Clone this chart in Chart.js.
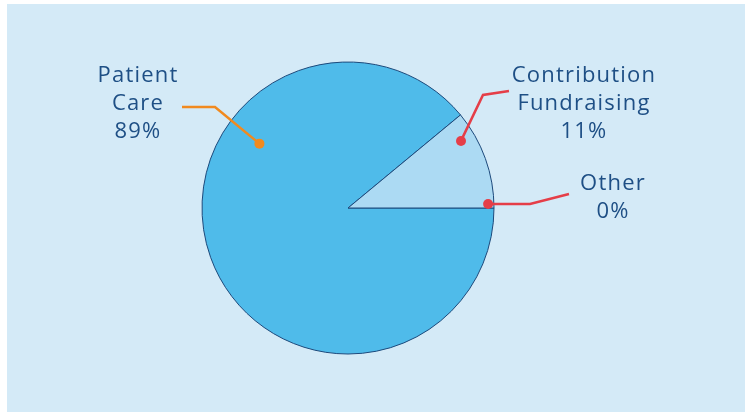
<!DOCTYPE html>
<html>
<head>
<meta charset="utf-8">
<script src="https://cdn.jsdelivr.net/npm/chart.js@4/dist/chart.umd.min.js"></script>
<style>
  html, body { margin: 0; padding: 0; background: #ffffff; }
  #wrap { width: 745px; height: 415px; position: relative; }
</style>
</head>
<body>
<div id="wrap"><canvas id="pieChart" width="745" height="415"></canvas></div>
<script>
// data
const categories = ["Patient Care", "Contribution Fundraising", "Other"];
const shares = [89, 11, 0];
const labelLines = [["Patient", "Care"], ["Contribution", "Fundraising"], ["Other"]];

const sliceColors = ["#4fbbea", "#acdaf3", "#4fbbea"];
const leaderColors = ["#f18a1f", "#e53e48", "#e53e48"];

// where each callout sits, relative to the pie centre (px) and radius
const callouts = [
    { dotAngle: -144, dotR: 0.75, elbow: [-133, -101], end: [-166, -101], text: [-210, -126] },
    { dotAngle: -30.7, dotR: 0.90, elbow: [135, -113], end: [161, -117], text: [236, -126] },
    { dotAngle: -1.6, dotR: 0.96, elbow: [182, -4], end: [221, -14], text: [265, -18] }
];

const panelPlugin = {
    id: "panel",
    beforeDraw(chart) {
        const ctx = chart.ctx;
        ctx.save();
        ctx.fillStyle = "#d4eaf7";
        ctx.fillRect(7, 4, 738, 408);
        ctx.restore();
    }
};

const calloutPlugin = {
    id: "callouts",
    afterDatasetsDraw(chart) {
        const ctx = chart.ctx;
        const meta = chart.getDatasetMeta(0);
        const arc = meta.data[0];
        const cx = arc.x, cy = arc.y, R = arc.outerRadius;
        ctx.save();
        callouts.forEach((c, i) => {
            const a = c.dotAngle * Math.PI / 180;
            const dx = cx + Math.cos(a) * R * c.dotR;
            const dy = cy + Math.sin(a) * R * c.dotR;
            ctx.strokeStyle = leaderColors[i];
            ctx.fillStyle = leaderColors[i];
            ctx.lineWidth = 2.5;
            ctx.beginPath();
            ctx.moveTo(dx, dy);
            ctx.lineTo(cx + c.elbow[0], cy + c.elbow[1]);
            ctx.lineTo(cx + c.end[0], cy + c.end[1]);
            ctx.stroke();
            ctx.beginPath();
            ctx.arc(dx, dy, 5, 0, Math.PI * 2);
            ctx.fill();

            const lines = labelLines[i].concat([shares[i] + "%"]);
            ctx.fillStyle = "#1e4f85";
            ctx.font = "22px 'Open Sans'";
            ctx.letterSpacing = "1.2px";
            ctx.textAlign = "center";
            ctx.textBaseline = "alphabetic";
            lines.forEach((t, k) => {
                ctx.fillText(t, cx + c.text[0], cy + c.text[1] + k * 28);
            });
        });
        ctx.restore();
    }
};

new Chart(document.getElementById("pieChart"), {
    type: "pie",
    data: {
        labels: categories,
        datasets: [{
            data: shares,
            backgroundColor: sliceColors,
            borderColor: "#1d4a7c",
            borderWidth: 1
        }]
    },
    options: {
        responsive: false,
        animation: false,
        rotation: 90,
        radius: 146,
        layout: { padding: { left: 0, right: 49, top: 1, bottom: 0 } },
        plugins: {
            legend: { display: false },
            tooltip: { enabled: false }
        }
    },
    plugins: [panelPlugin, calloutPlugin]
});
</script>
</body>
</html>
